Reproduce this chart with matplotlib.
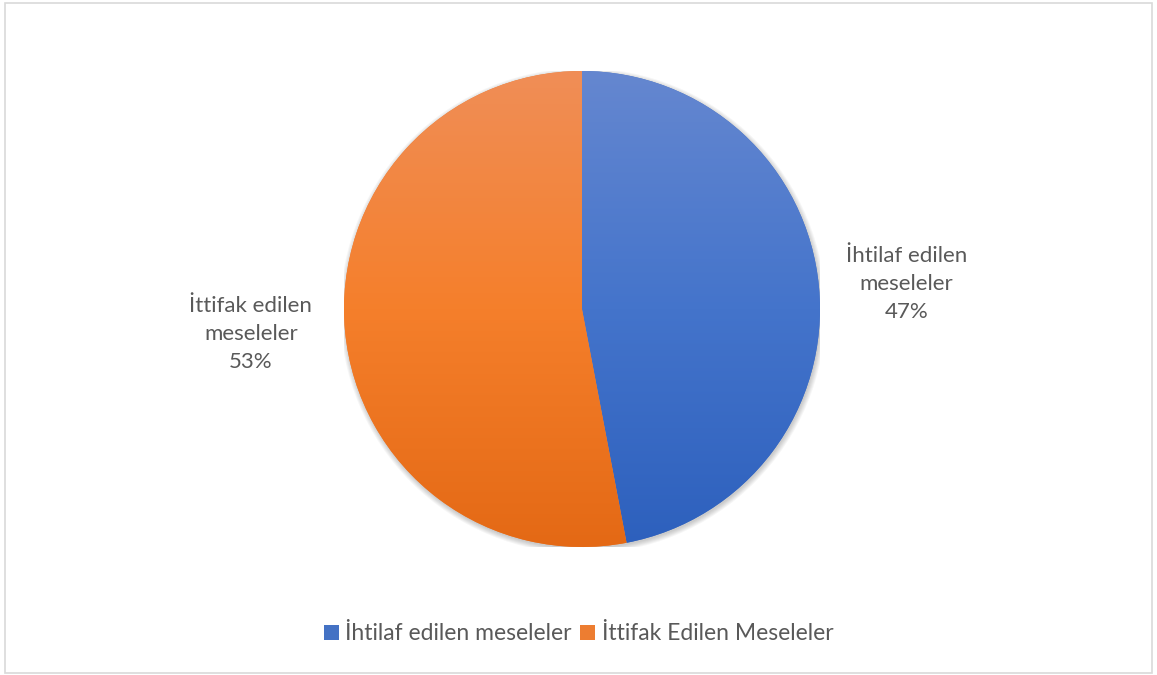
import numpy as np
import matplotlib.pyplot as plt
from matplotlib.patches import Rectangle, Patch, Circle
from matplotlib.colors import LinearSegmentedColormap

plt.rcParams['font.family'] = ['Lato', 'DejaVu Sans']

slice_labels = ['İhtilaf edilen\nmeseleler', 'İttifak edilen\nmeseleler']
legend_labels = ['İhtilaf edilen meseleler', 'İttifak Edilen Meseleler']
shares = [47, 53]

TEXT_COLOR = '#595959'
# bottom, middle, top
GRADIENTS = [('#2d60bd', '#4474cb', '#6587d0'),
             ('#e46915', '#f57f2b', '#f08e57')]
SOLID = ['#4472c4', '#ed7d31']

W, H = 1157, 675
fig = plt.figure(figsize=(W / 100, H / 100), dpi=100)

# pie centre and radius in pixels
cx, cy, r = 582, 675 - 309, 238
ax = fig.add_axes([(cx - r) / W, (cy - r) / H, 2 * r / W, 2 * r / H])

# soft shadow under the pie
for k in range(6):
    ax.add_patch(Circle((0.004, -0.008), 1.0 + 0.004 * k, facecolor='black',
                        alpha=0.035, linewidth=0, zorder=0))

wedges, texts, autotexts = ax.pie(
    shares,
    labels=slice_labels,
    startangle=90,
    counterclock=False,
    autopct='%1.0f%%',
    pctdistance=1.37,
    labeldistance=1.37,
    colors=SOLID,
    wedgeprops=dict(linewidth=0),
    textprops=dict(color=TEXT_COLOR, fontsize=16),
)
ax.set_xlim(-1, 1)
ax.set_ylim(-1, 1)
ax.set_aspect('equal')
ax.axis('off')

# gradient fill clipped to each wedge
grad = np.linspace(0, 1, 256).reshape(-1, 1)
for wedge, stops in zip(wedges, GRADIENTS):
    cmap = LinearSegmentedColormap.from_list('g', list(stops))
    im = ax.imshow(grad, cmap=cmap, extent=[-1, 1, -1, 1], origin='lower',
                   aspect='auto', zorder=wedge.get_zorder() + 0.1)
    im.set_clip_path(wedge)

# merge label and percentage into one centred block
for t, a in zip(texts, autotexts):
    x, y = t.get_position()
    t.set_position((x * (1.02 if x < 0 else 1.0), y * 0.8))
    t.set_text(t.get_text() + '\n' + a.get_text())
    t.set_horizontalalignment('center')
    t.set_verticalalignment('center')
    t.set_linespacing(1.5)
    a.set_visible(False)

handles = [Patch(facecolor=c, edgecolor='none') for c in SOLID]
fig.legend(handles, legend_labels, loc='center', bbox_to_anchor=(0.5, 1 - 634 / H),
           ncol=2, frameon=False, fontsize=16.5, labelcolor=TEXT_COLOR,
           handlelength=0.65, handleheight=0.65, handletextpad=0.3,
           columnspacing=0.35)

fig.patches.append(Rectangle((5 / W, 2 / H), 1147 / W, 670 / H,
                             transform=fig.transFigure, fill=False,
                             edgecolor='#d9d9d9', linewidth=1.2))

fig.savefig('out.png', dpi=100)
